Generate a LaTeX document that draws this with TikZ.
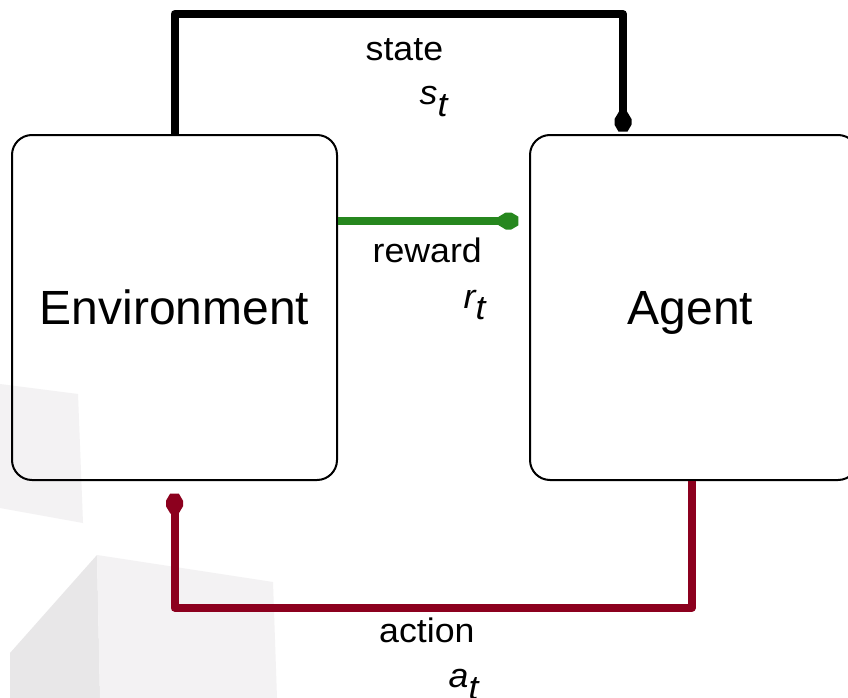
\documentclass[tikz,border=0pt]{standalone}
\usepackage{fontspec}
\setmainfont{Liberation Sans}
\newfontfamily\labelfont[FakeStretch=1.05]{Liberation Sans}
\usetikzlibrary{arrows.meta}

% Elongated hexagonal tip with a flat nose
\pgfdeclarearrow{
  name = HexTip,
  parameters = {\the\pgfarrowlength,\the\pgfarrowwidth},
  setup code = {
    \pgfarrowssettipend{0pt}
    \pgfarrowssetlineend{-.5\pgfarrowlength}
    \pgfarrowssetbackend{-\pgfarrowlength}
    \pgfarrowssavethe\pgfarrowlength
    \pgfarrowssavethe\pgfarrowwidth
  },
  drawing code = {
    \pgfpathmoveto{\pgfqpoint{0pt}{.26\pgfarrowwidth}}
    \pgfpathlineto{\pgfqpoint{-.35\pgfarrowlength}{.5\pgfarrowwidth}}
    \pgfpathlineto{\pgfqpoint{-.63\pgfarrowlength}{.5\pgfarrowwidth}}
    \pgfpathlineto{\pgfqpoint{-\pgfarrowlength}{.24\pgfarrowwidth}}
    \pgfpathlineto{\pgfqpoint{-\pgfarrowlength}{-.24\pgfarrowwidth}}
    \pgfpathlineto{\pgfqpoint{-.63\pgfarrowlength}{-.5\pgfarrowwidth}}
    \pgfpathlineto{\pgfqpoint{-.35\pgfarrowlength}{-.5\pgfarrowwidth}}
    \pgfpathlineto{\pgfqpoint{0pt}{-.26\pgfarrowwidth}}
    \pgfpathclose
    \pgfusepathqfill
  },
  defaults = {length=20pt, width=17pt}
}

\definecolor{rewardgreen}{RGB}{38,135,30}
\definecolor{actionred}{RGB}{140,0,30}
\definecolor{cubelight}{RGB}{243,242,243}
\definecolor{cubedark}{RGB}{232,231,232}

\begin{document}
\begin{tikzpicture}[x=1pt,y=-1pt,
  box/.style={draw, line width=2pt, rounded corners=20pt, minimum height=345pt,
    inner sep=0pt, text depth=0pt, font=\fontsize{48}{56}\selectfont},
  link/.style={line width=8pt, line join=round, -{HexTip[length=20pt,width=17pt]}},
  lbl/.style={anchor=base west, inner sep=0pt, font=\labelfont\fontsize{34}{40}\selectfont},
  var/.style={lbl, font=\labelfont\itshape\fontsize{34}{40}\selectfont}]
\useasboundingbox (0,0) rectangle (848,698);
\fill[white] (0,0) rectangle (848,698);

% faint blocks in the lower left
\fill[cubelight] (0,384) -- (78,394) -- (83,523) -- (0,508) -- cycle;
\fill[cubedark] (97,555) -- (10,653) -- (10,698) -- (100,698) -- cycle;
\fill[cubelight] (97,555) -- (273,582) -- (277,698) -- (100,698) -- cycle;

% the two parties
\node[box, minimum width=325pt] (env) at (174.5,307.5) {Environment};
\node[box, minimum width=328pt] (agent) at (694,307.5) {\hspace*{-7pt}Agent};

% state: environment -> agent, over the top
\draw[link, shorten >=2.3pt] (env.north) -- ++(0,-120) -| ([xshift=-71pt]agent.north);
% reward: straight across
\draw[link, rewardgreen, shorten >=10.7pt] ([yshift=86.5pt]env.east) -- ([yshift=86.5pt]agent.west);
% action: agent -> environment, underneath
\draw[link, actionred, shorten >=12.7pt] ([xshift=-2pt]agent.south) -- ++(0,126.5) -| (env.south);

% labels
\node[lbl] (stateLbl) at (365.5,60.7) {state};
\node[var] (stateVar) at (419.5,104.5) {s\raisebox{-12pt}{t}};
\node[lbl] (rewardLbl) at (372.5,262.3) {reward};
\node[var] (rewardVar) at (463.5,308.3) {r\raisebox{-11pt}{t}};
\node[lbl] (actionLbl) at (379,642.7) {action};
\node[var] (actionVar) at (448.5,687) {a\raisebox{-12pt}{t}};
\end{tikzpicture}
\end{document}
